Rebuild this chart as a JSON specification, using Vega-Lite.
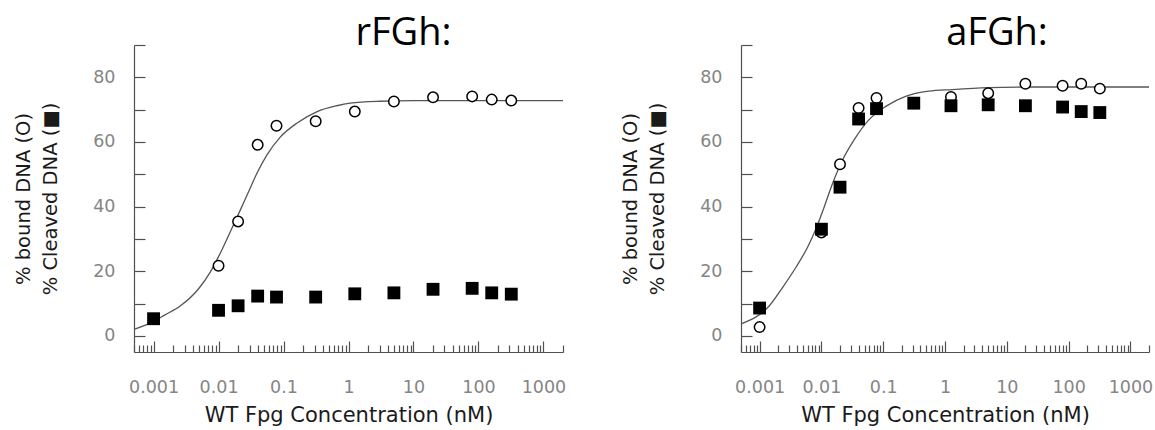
{
  "$schema": "https://vega.github.io/schema/vega-lite/v6.json",
  "padding": {"left": 13, "top": 15, "right": 2, "bottom": 0},
  "background": "white",
  "spacing": 54,
  "config": {
    "view": {"stroke": null},
    "axis": {
      "grid": false,
      "domainColor": "#505050",
      "tickColor": "#505050",
      "domainWidth": 1.2,
      "tickWidth": 1.2,
      "labelFont": "DejaVu Sans",
      "titleFont": "DejaVu Sans",
      "labelColor": "#858585",
      "titleColor": "#1a1a1a",
      "labelFontSize": 17.5,
      "titleFontSize": 21,
      "titleFontWeight": "normal",
      "labelOverlap": false
    },
    "title": {"font": "Open Sans", "fontSize": 38, "fontWeight": "normal", "color": "#000000"}
  },
  "datasets": {
    "points": [
      {"panel": "rFGh", "conc": 0.001, "bound": null, "cleaved": 5.3},
      {"panel": "rFGh", "conc": 0.01, "bound": 21.7, "cleaved": 7.9},
      {"panel": "rFGh", "conc": 0.02, "bound": 35.4, "cleaved": 9.3},
      {"panel": "rFGh", "conc": 0.04, "bound": 59.1, "cleaved": 12.3},
      {"panel": "rFGh", "conc": 0.078, "bound": 65.0, "cleaved": 12.0},
      {"panel": "rFGh", "conc": 0.3125, "bound": 66.4, "cleaved": 12.0},
      {"panel": "rFGh", "conc": 1.25, "bound": 69.4, "cleaved": 13.0},
      {"panel": "rFGh", "conc": 5, "bound": 72.5, "cleaved": 13.3},
      {"panel": "rFGh", "conc": 20, "bound": 73.8, "cleaved": 14.4},
      {"panel": "rFGh", "conc": 80, "bound": 74.1, "cleaved": 14.7},
      {"panel": "rFGh", "conc": 160, "bound": 73.1, "cleaved": 13.3},
      {"panel": "rFGh", "conc": 320, "bound": 72.8, "cleaved": 12.9},
      {"panel": "aFGh", "conc": 0.001, "bound": 2.7, "cleaved": 8.6},
      {"panel": "aFGh", "conc": 0.01, "bound": 32.0, "cleaved": 33.0},
      {"panel": "aFGh", "conc": 0.02, "bound": 53.1, "cleaved": 46.0},
      {"panel": "aFGh", "conc": 0.04, "bound": 70.5, "cleaved": 67.1},
      {"panel": "aFGh", "conc": 0.078, "bound": 73.6, "cleaved": 70.3},
      {"panel": "aFGh", "conc": 0.3125, "bound": 72.0, "cleaved": 72.0},
      {"panel": "aFGh", "conc": 1.25, "bound": 73.9, "cleaved": 71.2},
      {"panel": "aFGh", "conc": 5, "bound": 75.1, "cleaved": 71.5},
      {"panel": "aFGh", "conc": 20, "bound": 78.0, "cleaved": 71.2},
      {"panel": "aFGh", "conc": 80, "bound": 77.4, "cleaved": 70.8},
      {"panel": "aFGh", "conc": 160, "bound": 78.0, "cleaved": 69.4},
      {"panel": "aFGh", "conc": 320, "bound": 76.5, "cleaved": 69.1}
    ],
    "curves": [
      {"panel": "rFGh", "conc": 0.0005, "fit": 2.0},
      {"panel": "rFGh", "conc": 0.001, "fit": 4.5},
      {"panel": "rFGh", "conc": 0.0015, "fit": 6.5},
      {"panel": "rFGh", "conc": 0.0026, "fit": 9.3},
      {"panel": "rFGh", "conc": 0.0049, "fit": 14.5},
      {"panel": "rFGh", "conc": 0.0075, "fit": 19.8},
      {"panel": "rFGh", "conc": 0.01, "fit": 24.5},
      {"panel": "rFGh", "conc": 0.015, "fit": 32.0},
      {"panel": "rFGh", "conc": 0.0216, "fit": 38.9},
      {"panel": "rFGh", "conc": 0.029, "fit": 44.6},
      {"panel": "rFGh", "conc": 0.039, "fit": 50.3},
      {"panel": "rFGh", "conc": 0.0556, "fit": 56.0},
      {"panel": "rFGh", "conc": 0.089, "fit": 61.5},
      {"panel": "rFGh", "conc": 0.16, "fit": 65.8},
      {"panel": "rFGh", "conc": 0.33, "fit": 69.4},
      {"panel": "rFGh", "conc": 0.66, "fit": 71.2},
      {"panel": "rFGh", "conc": 1.06, "fit": 72.0},
      {"panel": "rFGh", "conc": 3, "fit": 72.6},
      {"panel": "rFGh", "conc": 10, "fit": 72.8},
      {"panel": "rFGh", "conc": 100, "fit": 72.8},
      {"panel": "rFGh", "conc": 2000, "fit": 72.8},
      {"panel": "aFGh", "conc": 0.0005, "fit": 3.7},
      {"panel": "aFGh", "conc": 0.00145, "fit": 9.4},
      {"panel": "aFGh", "conc": 0.00238, "fit": 15.1},
      {"panel": "aFGh", "conc": 0.0039, "fit": 21.3},
      {"panel": "aFGh", "conc": 0.006, "fit": 27.5},
      {"panel": "aFGh", "conc": 0.0082, "fit": 33.2},
      {"panel": "aFGh", "conc": 0.0111, "fit": 39.9},
      {"panel": "aFGh", "conc": 0.0152, "fit": 47.2},
      {"panel": "aFGh", "conc": 0.022, "fit": 54.4},
      {"panel": "aFGh", "conc": 0.034, "fit": 60.7},
      {"panel": "aFGh", "conc": 0.059, "fit": 66.9},
      {"panel": "aFGh", "conc": 0.11, "fit": 71.0},
      {"panel": "aFGh", "conc": 0.23, "fit": 74.1},
      {"panel": "aFGh", "conc": 0.547, "fit": 75.7},
      {"panel": "aFGh", "conc": 1.3, "fit": 76.2},
      {"panel": "aFGh", "conc": 5, "fit": 76.8},
      {"panel": "aFGh", "conc": 20, "fit": 77.0},
      {"panel": "aFGh", "conc": 2000, "fit": 77.0}
    ]
  },
  "hconcat": [
    {
      "width": 429,
      "height": 307,
      "title": {"text": "rFGh:", "dx": 55, "offset": -47, "baseline": "alphabetic"},
      "resolve": {"axis": {"x": "independent", "y": "independent"}},
      "layer": [
        {
          "data": {"name": "curves"},
          "transform": [{"filter": "datum.panel == 'rFGh'"}],
          "mark": {"type": "line", "color": "#555555", "strokeWidth": 1.3, "interpolate": "monotone"},
          "encoding": {
            "x": {"field": "conc", "type": "quantitative", "scale": {"type": "log", "domain": [0.0005, 2000]},
              "axis": {"orient": "bottom", "values": [0.0005,0.0006,0.0007,0.0008,0.0009,0.002,0.003,0.004,0.005,0.006,0.007,0.008,0.009,0.02,0.03,0.04,0.05,0.06,0.07,0.08,0.09,0.2,0.3,0.4,0.5,0.6,0.7,0.8,0.9,2,3,4,5,6,7,8,9,20,30,40,50,60,70,80,90,200,300,400,500,600,700,800,900,2000], "labels": false, "tickSize": -7, "domain": false, "title": null}},
            "y": {"field": "fit", "type": "quantitative", "scale": {"domain": [-5, 90]},
              "axis": {"values": [0,10,20,30,40,50,60,70,80,90], "labelExpr": "datum.value % 20 == 0 ? datum.label : ''", "tickSize": -11, "labelPadding": 30, "title": ["% bound DNA (O)", "% Cleaved DNA (■)"], "titleFont": "DejaVu Sans", "titlePadding": 32, "titleLineHeight": 27, "titleFontSize": 19.5}}
          }
        },
        {
          "data": {"name": "points"},
          "transform": [{"filter": "datum.panel == 'rFGh' && datum.bound != null"}],
          "mark": {"type": "point", "shape": "circle", "size": 110, "fill": "white", "stroke": "black", "strokeWidth": 1.5, "opacity": 1, "fillOpacity": 1},
          "encoding": {
            "x": {"field": "conc", "type": "quantitative", "scale": {"type": "log", "domain": [0.0005, 2000]},
              "axis": {"orient": "bottom", "values": [0.001,0.01,0.1,1,10,100,1000], "format": "~g", "tickSize": -11, "labelPadding": 37, "title": "WT Fpg Concentration (nM)", "titlePadding": 9}},
            "y": {"field": "bound", "type": "quantitative", "scale": {"domain": [-5, 90]}, "axis": null}
          }
        },
        {
          "data": {"name": "points"},
          "transform": [{"filter": "datum.panel == 'rFGh'"}],
          "mark": {"type": "square", "size": 165, "color": "black", "opacity": 1},
          "encoding": {
            "x": {"field": "conc", "type": "quantitative", "scale": {"type": "log", "domain": [0.0005, 2000]}, "axis": null},
            "y": {"field": "cleaved", "type": "quantitative", "scale": {"domain": [-5, 90]}, "axis": null}
          }
        }
      ]
    },
    {
      "width": 408,
      "height": 307,
      "title": {"text": "aFGh:", "dx": 52, "offset": -47, "baseline": "alphabetic"},
      "resolve": {"axis": {"x": "independent", "y": "independent"}},
      "layer": [
        {
          "data": {"name": "curves"},
          "transform": [{"filter": "datum.panel == 'aFGh'"}],
          "mark": {"type": "line", "color": "#555555", "strokeWidth": 1.3, "interpolate": "monotone"},
          "encoding": {
            "x": {"field": "conc", "type": "quantitative", "scale": {"type": "log", "domain": [0.0005, 2000]},
              "axis": {"orient": "bottom", "values": [0.0005,0.0006,0.0007,0.0008,0.0009,0.002,0.003,0.004,0.005,0.006,0.007,0.008,0.009,0.02,0.03,0.04,0.05,0.06,0.07,0.08,0.09,0.2,0.3,0.4,0.5,0.6,0.7,0.8,0.9,2,3,4,5,6,7,8,9,20,30,40,50,60,70,80,90,200,300,400,500,600,700,800,900,2000], "labels": false, "tickSize": -7, "domain": false, "title": null}},
            "y": {"field": "fit", "type": "quantitative", "scale": {"domain": [-5, 90]},
              "axis": {"values": [0,10,20,30,40,50,60,70,80,90], "labelExpr": "datum.value % 20 == 0 ? datum.label : ''", "tickSize": -11, "labelPadding": 30, "title": ["% bound DNA (O)", "% Cleaved DNA (■)"], "titleFont": "DejaVu Sans", "titlePadding": 32, "titleLineHeight": 27, "titleFontSize": 19.5}}
          }
        },
        {
          "data": {"name": "points"},
          "transform": [{"filter": "datum.panel == 'aFGh' && datum.bound != null"}],
          "mark": {"type": "point", "shape": "circle", "size": 110, "fill": "white", "stroke": "black", "strokeWidth": 1.5, "opacity": 1, "fillOpacity": 1},
          "encoding": {
            "x": {"field": "conc", "type": "quantitative", "scale": {"type": "log", "domain": [0.0005, 2000]},
              "axis": {"orient": "bottom", "values": [0.001,0.01,0.1,1,10,100,1000], "format": "~g", "tickSize": -11, "labelPadding": 37, "title": "WT Fpg Concentration (nM)", "titlePadding": 9}},
            "y": {"field": "bound", "type": "quantitative", "scale": {"domain": [-5, 90]}, "axis": null}
          }
        },
        {
          "data": {"name": "points"},
          "transform": [{"filter": "datum.panel == 'aFGh'"}],
          "mark": {"type": "square", "size": 165, "color": "black", "opacity": 1},
          "encoding": {
            "x": {"field": "conc", "type": "quantitative", "scale": {"type": "log", "domain": [0.0005, 2000]}, "axis": null},
            "y": {"field": "cleaved", "type": "quantitative", "scale": {"domain": [-5, 90]}, "axis": null}
          }
        }
      ]
    }
  ]
}
